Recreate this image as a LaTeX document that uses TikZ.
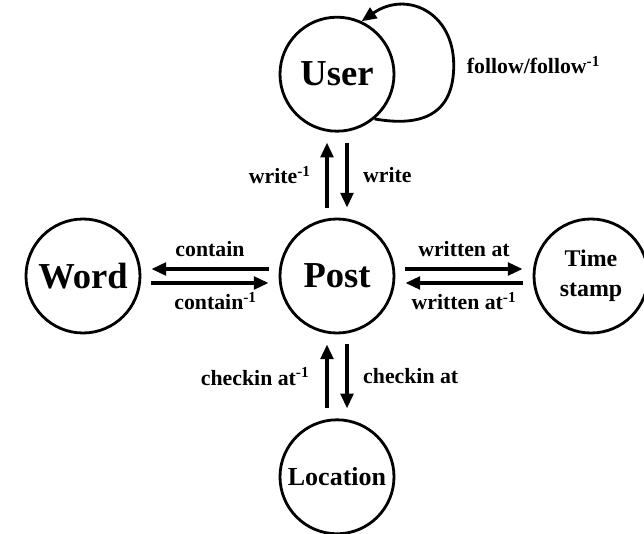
\documentclass[tikz,border=0pt]{standalone}
\usepackage{fontspec}
\setmainfont{Liberation Serif}
\usepackage{tikz}
\usetikzlibrary{arrows.meta, positioning}

\tikzset{
  entity/.style={circle, draw, line width=2pt, minimum size=2.85cm, inner sep=0pt,
    font=\bfseries\fontsize{26}{30}\selectfont},
  rel/.style={line width=2.4pt, shorten >=0.25cm, shorten <=0.25cm},
  lbl/.style={font=\bfseries\fontsize{15.5}{18}\selectfont}
}

\begin{document}
\begin{tikzpicture}[>={Triangle[length=10.5pt,width=9pt]}]
        \useasboundingbox (0,0) rectangle (16.1,13.325);

        \node[entity] (post) at (8.425,6.425) {Post};
        \node[entity] (user) [above=2.125cm of post] {User};
        \node[entity] (word) [left=3.43cm of post] {Word};
        \node[entity, align=center, font=\bfseries\fontsize{17}{21}\selectfont] (time) [right=3.43cm of post] {Time\\stamp};
        \node[entity, font=\bfseries\fontsize{18.5}{22}\selectfont] (loc) [below=2.1cm of post] {Location};

        \path[->, rel, lbl]
        % user <-> post
        ([xshift=2.5mm]user.south) edge node[right=7pt] {write} ([xshift=2.5mm]post.north)
        ([xshift=-2.5mm]post.north) edge node[left=7pt] {write\textsuperscript{-1}} ([xshift=-2.5mm]user.south)

        % word <-> post
        ([yshift=1.75mm]post.west) edge node[above=4pt] {contain} ([yshift=1.75mm]word.east)
        ([yshift=-1.75mm]word.east) edge node[below=2pt, xshift=4pt] {contain\textsuperscript{-1}} ([yshift=-1.75mm]post.west)

        % post <-> time stamp
        ([yshift=1.75mm]post.east) edge node[above=4pt] {written at} ([yshift=1.75mm]time.west)
        ([yshift=-1.75mm]time.west) edge node[below=2pt] {written at\textsuperscript{-1}} ([yshift=-1.75mm]post.east)

        % post <-> location
        ([xshift=2.5mm]post.south) edge node[right=7pt] {checkin at} ([xshift=2.5mm]loc.north)
        ([xshift=-2.5mm]loc.north) edge node[left=8pt] {checkin at\textsuperscript{-1}} ([xshift=-2.5mm]post.south);

        % user loop
        \draw[->, line width=2pt]
        (user.-50) to[out=-10, in=-90, looseness=1.3] ++(1.98,1.34)
          node[right=5pt, lbl] {follow/follow\textsuperscript{-1}}
          to[out=90, in=35, looseness=1.35] (user.65);
\end{tikzpicture}
\end{document}
